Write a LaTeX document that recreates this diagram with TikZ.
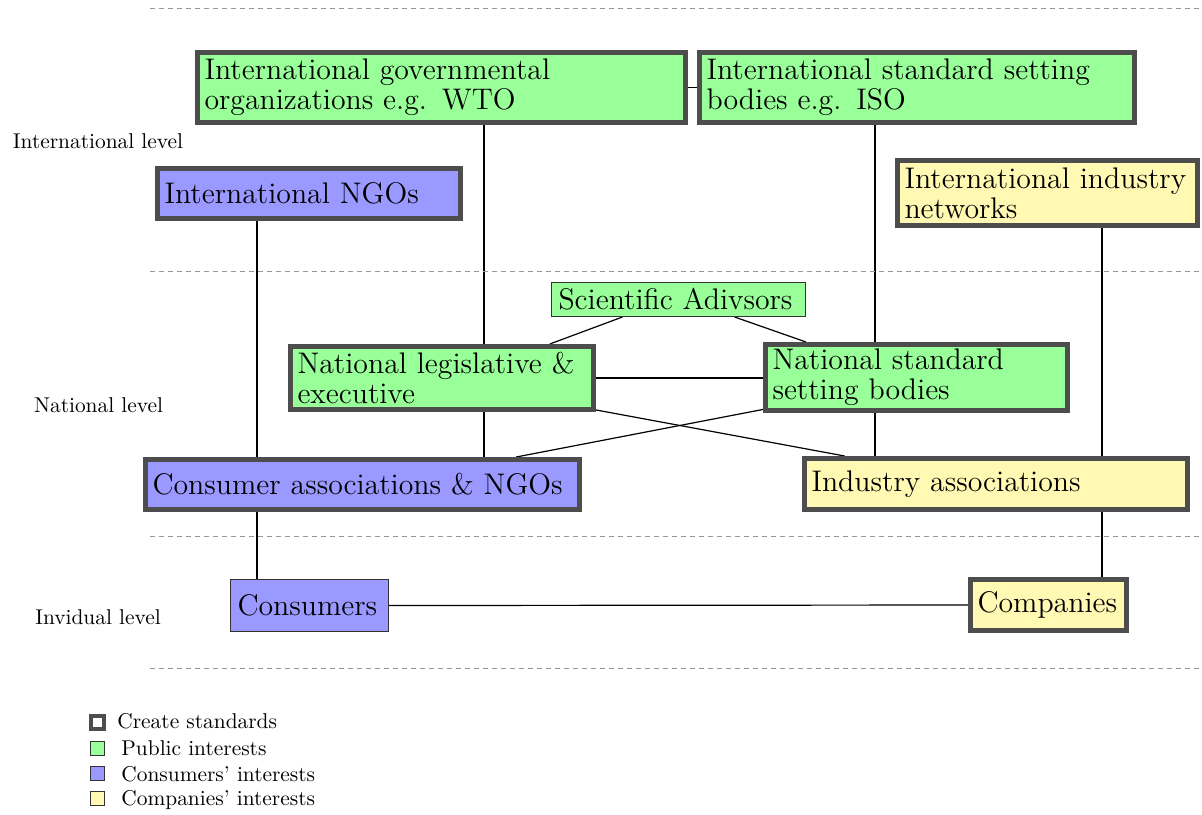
\documentclass[tikz,border=0pt]{standalone}
\usetikzlibrary{backgrounds, calc}
\definecolor{pubgreen}{HTML}{99FF99}
\definecolor{consblue}{HTML}{9999FF}
\definecolor{compyellow}{HTML}{FFF9B3}
\definecolor{stdgray}{HTML}{4D4D4D}

\begin{document}
\begin{tikzpicture}[
    x=0.5pt, y=-0.5pt,
    box/.style={draw, rectangle, inner xsep=3.5pt, inner ysep=0pt, align=left, font=\fontsize{14.9}{15}\selectfont},
    creates/.style={line width=2.5pt, draw=stdgray},
    plain/.style={line width=0.5pt, draw=black!80},
    public/.style={fill=pubgreen},
    consumer/.style={fill=consblue},
    company/.style={fill=compyellow},
    link/.style={line width=0.6pt, draw=black},
    level/.style={inner sep=0pt, font=\fontsize{10.7}{12}\selectfont},
    divider/.style={dash pattern=on 2.5pt off 2pt, line width=0.5pt, draw=black!40}
]
\useasboundingbox (0,0) rectangle (1202,814);

% level separators
\foreach \yy in {8,271,536,668}
    \draw[divider] (150,\yy) -- (1202,\yy);

\node[level] (lvlint) at (98,141) {International level};
\node[level] (lvlnat) at (98.5,405) {National level};
\node[level] (lvlind) at (98,617) {Invidual level};

% international level
\node[box, creates, public, minimum width=244pt, minimum height=35pt, text width=237pt] (igo) at (441.5,87.5) {International governmental\\organizations e.g. WTO};
\node[box, creates, public, minimum width=217.5pt, minimum height=35pt, text width=210.5pt] (iso) at (917,87.5) {International standard setting\\bodies e.g. ISO};
\node[box, creates, consumer, minimum width=151.5pt, minimum height=25pt, text width=144.5pt] (ingo) at (309,193.5) {International NGOs};
\node[box, creates, company, minimum width=150pt, minimum height=32.5pt, text width=143pt] (iin) at (1047.5,193) {International industry\\networks};

% national level
\node[box, plain, public, minimum width=127pt, minimum height=17pt, text width=120pt] (sci) at (678.5,299.5) {Scientific Adivsors};
\node[box, creates, public, minimum width=151.5pt, minimum height=31.5pt, text width=144.5pt] (natleg) at (442,378) {National legislative \&\\executive};
\node[box, creates, public, minimum width=151pt, minimum height=33pt, text width=144pt] (natstd) at (916.5,377.5) {National standard\\setting bodies};
\node[box, creates, consumer, minimum width=217pt, minimum height=25pt, text width=210pt] (consassoc) at (362.5,484.5) {Consumer associations \& NGOs};
\node[box, creates, company, minimum width=191.5pt, minimum height=25.5pt, text width=184.5pt] (indassoc) at (996,484) {Industry associations};

% individual level
\node[box, plain, consumer, minimum width=79pt, minimum height=26pt, text width=72pt] (consumers) at (309.5,605.5) {Consumers};
\node[box, creates, company, minimum width=78pt, minimum height=25.5pt, text width=71pt] (companies) at (1048.5,605) {Companies};

\coordinate (colA) at (257,0);
\coordinate (colB) at (484,0);
\coordinate (colC) at (875,0);
\coordinate (colD) at (1102,0);

\begin{scope}[on background layer]
\draw[link] (igo.east) -- (iso.west);
\draw[link] (igo.south -| colB) -- (natleg.north -| colB);
\draw[link] (iso.south -| colC) -- (natstd.north -| colC);
\draw[link] (ingo.south -| colA) -- (consassoc.north -| colA);
\draw[link] (iin.south -| colD) -- (indassoc.north -| colD);
\draw[link] ($(sci.south west)!0.28!(sci.south east)$) -- ($(natleg.north west)!0.85!(natleg.north east)$);
\draw[link] ($(sci.south west)!0.72!(sci.south east)$) -- ($(natstd.north west)!0.14!(natstd.north east)$);
\draw[link] (natleg.east) -- (natleg.east -| natstd.west);
\draw[link] ($(natleg.north east)!0.97!(natleg.south east)$) -- ($(indassoc.north west)!0.11!(indassoc.north east)$);
\draw[link] ($(natstd.north west)!0.95!(natstd.south west)$) -- ($(consassoc.north west)!0.85!(consassoc.north east)$);
\draw[link] (natleg.south -| colB) -- (consassoc.north -| colB);
\draw[link] (natstd.south -| colC) -- (indassoc.north -| colC);
\draw[link] (consassoc.south -| colA) -- (consumers.north -| colA);
\draw[link] (indassoc.south -| colD) -- (companies.north -| colD);
\draw[link] (consumers.east) -- (companies.west);
\end{scope}

% legend
\node[draw=stdgray, line width=2pt, fill=white, minimum size=6.5pt, inner sep=0pt] (keystd) at (97.5,722) {};
\node[draw=black!80, line width=0.5pt, fill=pubgreen, minimum size=7pt, inner sep=0pt] (keypub) at (97.5,748.5) {};
\node[draw=black!80, line width=0.5pt, fill=consblue, minimum size=7pt, inner sep=0pt] (keycons) at (97.5,773.5) {};
\node[draw=black!80, line width=0.5pt, fill=compyellow, minimum size=7pt, inner sep=0pt] (keycomp) at (97.5,798.5) {};
\node[level, anchor=west] (keystdtxt) at (117,721) {Create standards};
\node[level, anchor=west] (keypubtxt) at (121,748) {Public interests};
\node[level, anchor=west] (keyconstxt) at (121,774) {Consumers' interests};
\node[level, anchor=west] (keycomptxt) at (121,800) {Companies' interests};

\end{tikzpicture}
\end{document}
